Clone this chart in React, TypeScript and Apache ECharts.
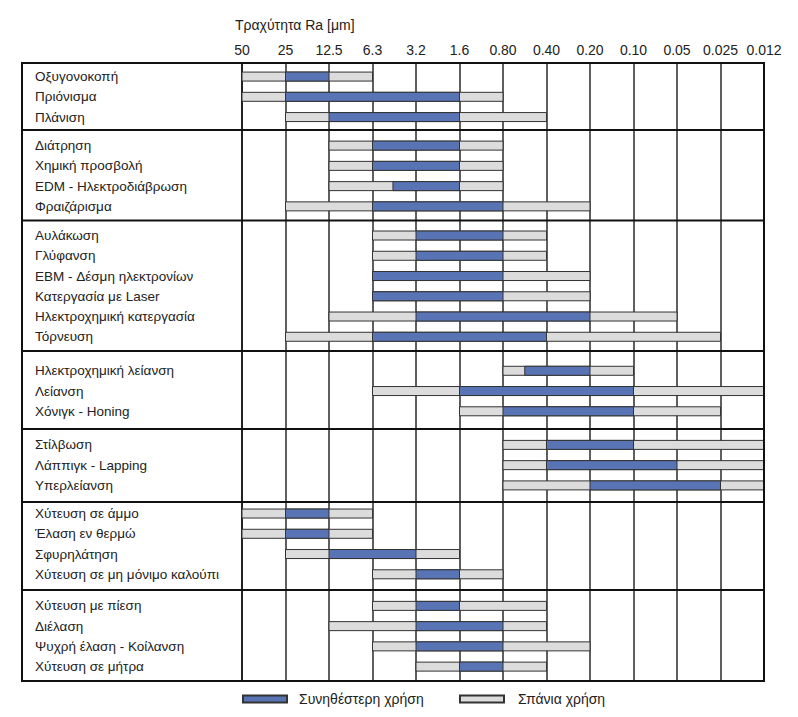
import React, { useEffect, useRef } from "react";
import * as echarts from "echarts";

// ---------- DATA ----------
const TITLE = "Τραχύτητα Ra [μm]";
const TICKS = ["50", "25", "12.5", "6.3", "3.2", "1.6", "0.80", "0.40", "0.20", "0.10", "0.05", "0.025", "0.012"];

const LEGEND_COMMON = "Συνηθέστερη χρήση";
const LEGEND_RARE = "Σπάνια χρήση";

const GROUPS: string[][] = [
  ["Οξυγονοκοπή", "Πριόνισμα", "Πλάνιση"],
  ["Διάτρηση", "Χημική προσβολή", "EDM - Ηλεκτροδιάβρωση", "Φραιζάρισμα"],
  ["Αυλάκωση", "Γλύφανση", "EBM - Δέσμη ηλεκτρονίων", "Κατεργασία με Laser", "Ηλεκτροχημική κατεργασία", "Τόρνευση"],
  ["Ηλεκτροχημική λείανση", "Λείανση", "Χόνιγκ - Honing"],
  ["Στίλβωση", "Λάππιγκ - Lapping", "Υπερλείανση"],
  ["Χύτευση σε άμμο", "Έλαση εν θερμώ", "Σφυρηλάτηση", "Χύτευση σε μη μόνιμο καλούπι"],
  ["Χύτευση με πίεση", "Διέλαση", "Ψυχρή έλαση - Κοίλανση", "Χύτευση σε μήτρα"],
];

// ranges in tick-index units (0 = 50 μm ... 12 = 0.012 μm), one per process in order
const RARE_RANGE: [number, number][] = [
  [0, 3], [0, 6], [1, 7],
  [2, 6], [2, 6], [2, 6], [1, 8],
  [3, 7], [3, 7], [3, 8], [3, 8], [2, 10], [1, 11],
  [6, 9], [3, 12], [5, 11],
  [6, 12], [6, 12], [6, 12],
  [0, 3], [0, 3], [1, 5], [3, 6],
  [3, 7], [2, 7], [3, 8], [4, 7],
];
const COMMON_RANGE: [number, number][] = [
  [1, 2], [1, 5], [2, 5],
  [3, 5], [3, 5], [3.47, 5], [3, 6],
  [4, 6], [4, 6], [3, 6], [3, 6], [4, 8], [3, 7],
  [6.5, 8], [5, 9], [6, 9],
  [7, 9], [7, 10], [8, 11],
  [1, 2], [1, 2], [2, 4], [4, 5],
  [4, 5], [4, 6], [4, 6], [5, 6],
];

// ---------- LAYOUT ----------
// padding above / below each group, in row units
const PAD_TOP = [0.67, 0.77, 0.74, 0.98, 0.79, 0.57, 0.79];
const PAD_BOTTOM = [0.64, 0.7, 0.7, 0.87, 0.82, 0.77, 0.71];
const BLUE = "#5874b4";
const GRAY = "#dcdcdc";
const EDGE = "#333333";
const FONT = '"Liberation Sans", Arial, sans-serif';
const BAR_H = 9;

export default function App() {
  const ref = useRef<HTMLDivElement>(null);

  useEffect(() => {
    document.body.style.margin = "0";
    if (!ref.current) return;
    const chart = echarts.init(ref.current, undefined, { renderer: "svg" });

    // row positions derived from group structure
    const rowY: number[] = [];
    const names: string[] = [];
    const boundaries: number[] = [];
    let cur = 0;
    GROUPS.forEach((g, gi) => {
      g.forEach((n, i) => {
        rowY.push(cur + PAD_TOP[gi] + i);
        names.push(n);
      });
      cur += PAD_TOP[gi] + PAD_BOTTOM[gi] + g.length - 1;
      if (gi < GROUPS.length - 1) boundaries.push(cur);
    });
    const TOTAL = cur;

    const rareData = rowY.map((y, i) => [y, RARE_RANGE[i][0], RARE_RANGE[i][1]]);
    const commonData = rowY.map((y, i) => [y, COMMON_RANGE[i][0], COMMON_RANGE[i][1]]);
    const labelData = rowY.map((y) => [0, y]);
    const sepData = boundaries.map((b) => [0, b]);

    const barRender = (fill: string) => (params: any, api: any) => {
      const y = api.value(0);
      const p0 = api.coord([api.value(1), y]);
      const p1 = api.coord([api.value(2), y]);
      return {
        type: "rect",
        shape: { x: p0[0], y: p0[1] - BAR_H / 2, width: p1[0] - p0[0], height: BAR_H },
        style: { fill, stroke: EDGE, lineWidth: 1 },
      };
    };

    chart.setOption({
      animation: false,
      title: {
        text: TITLE,
        left: 230,
        top: 13,
        textStyle: { fontSize: 14, fontWeight: "normal", color: "#222", fontFamily: FONT },
      },
      legend: [
        {
          data: [LEGEND_COMMON],
          left: 242,
          top: 692,
          padding: 0,
          icon: "rect",
          itemWidth: 44,
          itemHeight: 7,
          selectedMode: false,
          textStyle: { fontSize: 14, color: "#222", fontFamily: FONT, padding: [0, 0, 0, 7] },
        },
        {
          data: [LEGEND_RARE],
          left: 459,
          top: 692,
          padding: 0,
          icon: "rect",
          itemWidth: 44,
          itemHeight: 7,
          selectedMode: false,
          textStyle: { fontSize: 14, color: "#222", fontFamily: FONT, padding: [0, 0, 0, 9] },
        },
      ],
      grid: {
        left: 242,
        right: 34,
        top: 63,
        bottom: 36,
        show: true,
        borderColor: "#111",
        borderWidth: 2,
        containLabel: false,
      },
      xAxis: {
        type: "value",
        position: "top",
        min: 0,
        max: 12,
        interval: 1,
        axisLine: { show: false },
        axisTick: { show: false },
        axisLabel: {
          show: true,
          margin: 6,
          fontSize: 14,
          color: "#222",
          fontFamily: FONT,
          showMinLabel: true,
          showMaxLabel: true,
          formatter: (v: number) => TICKS[Math.round(v)] ?? "",
        },
        splitLine: { show: true, lineStyle: { color: "#2a2a2a", width: 1.5 } },
      },
      yAxis: {
        type: "value",
        min: 0,
        max: TOTAL,
        inverse: true,
        show: false,
        splitLine: { show: false },
      },
      graphic: [
        {
          type: "rect",
          shape: { x: 22, y: 63, width: 742, height: 618 },
          style: { fill: "none", stroke: "#111", lineWidth: 2 },
          z: 100,
        },
      ],
      series: [
        {
          type: "custom",
          name: LEGEND_RARE,
          itemStyle: { color: GRAY, borderColor: EDGE, borderWidth: 1 },
          renderItem: barRender(GRAY),
          encode: { x: [1, 2], y: 0 },
          data: rareData,
          z: 2,
        },
        {
          type: "custom",
          name: LEGEND_COMMON,
          itemStyle: { color: BLUE, borderColor: EDGE, borderWidth: 1 },
          renderItem: barRender(BLUE),
          encode: { x: [1, 2], y: 0 },
          data: commonData,
          z: 3,
        },
        {
          type: "custom",
          name: "labels",
          renderItem: (params: any, api: any) => {
            const p = api.coord([0, api.value(1)]);
            return {
              type: "text",
              x: params.coordSys.x - 207,
              y: p[1],
              style: {
                text: names[params.dataIndex],
                fill: "#222",
                font: `13.5px ${FONT}`,
                verticalAlign: "middle",
                align: "left",
              },
            };
          },
          encode: { x: 0, y: 1 },
          data: labelData,
          z: 4,
          silent: true,
        },
        {
          type: "custom",
          name: "separators",
          renderItem: (params: any, api: any) => {
            const p = api.coord([0, api.value(1)]);
            const cs = params.coordSys;
            return {
              type: "line",
              shape: { x1: cs.x - 220, y1: p[1], x2: cs.x + cs.width, y2: p[1] },
              style: { stroke: "#111", lineWidth: 2 },
            };
          },
          encode: { x: 0, y: 1 },
          data: sepData,
          z: 5,
          silent: true,
        },
      ],
    });

    return () => chart.dispose();
  }, []);

  return <div ref={ref} style={{ width: 798, height: 717 }} />;
}
